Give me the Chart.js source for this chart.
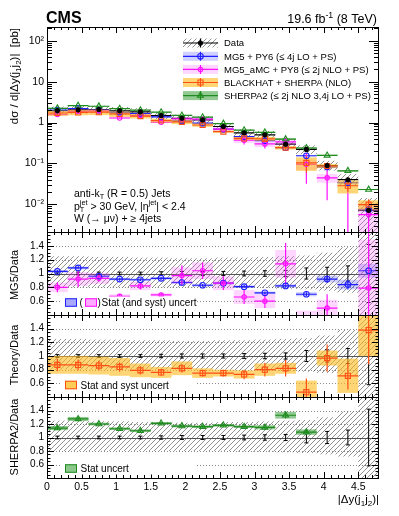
<!DOCTYPE html>
<html>
<head>
<meta charset="utf-8">
<script src="https://cdn.jsdelivr.net/npm/chart.js@4.4.1/dist/chart.umd.min.js"></script>
<style>
html,body{margin:0;padding:0;background:#fff;}
#wrap{position:relative;width:399px;height:516px;background:#fff;overflow:hidden;}
#wrap canvas{position:absolute;left:0;top:0;}
</style>
</head>
<body>
<div id="wrap">
<canvas id="cMain" width="399" height="516"></canvas>
<canvas id="cR1" width="399" height="516"></canvas>
<canvas id="cR2" width="399" height="516"></canvas>
<canvas id="cR3" width="399" height="516"></canvas>
</div>
<script>
// ---------------- DATA ----------------
const binCenters = [0.15,0.45,0.75,1.05,1.35,1.65,1.95,2.25,2.55,2.85,3.15,3.45,3.75,4.05,4.35,4.65];
const binHalfWidth = 0.15;
const xTickValues = [0,0.5,1,1.5,2,2.5,3,3.5,4,4.5];
const xTickLabels = ['0','0.5','1','1.5','2','2.5','3','3.5','4','4.5'];
const mainTickValues = [0.01,0.1,1,10,100];
const mainTickLabels = ['10\u207B\u00B2','10\u207B\u00B9','1','10','10\u00B2'];
const ratioTickValues = [0.6,0.8,1,1.2,1.4];
const ratioTickLabels = ['0.6','0.8','1','1.2','1.4'];
const seriesLabels = ['Data','MG5 + PY6 (\u2264 4j LO + PS)','MG5_aMC + PY8 (\u2264 2j NLO + PS)','BLACKHAT + SHERPA (NLO)','SHERPA2 (\u2264 2j NLO 3,4j LO + PS)'];

// Data cross section [pb] and relative uncertainties
const dataXsec = [1.96,2.04,2.08,1.93,1.82,1.48,1.27,1.16,0.80,0.56,0.50,0.296,0.22,0.089,0.040,0.0071];
const dataStatRel = [0.02,0.02,0.02,0.02,0.02,0.025,0.03,0.03,0.03,0.035,0.04,0.045,0.08,0.09,0.11,0.42];
const dataSystUpRel = [0.25,0.25,0.24,0.24,0.23,0.23,0.22,0.22,0.23,0.23,0.24,0.25,0.26,0.30,0.38,1.00];
const dataSystDownRel = [0.20,0.20,0.20,0.20,0.20,0.20,0.20,0.20,0.20,0.21,0.21,0.22,0.23,0.25,0.28,0.90];

// MG5 + PY6
const mg5Xsec = [2.02,2.20,2.00,1.78,1.66,1.38,1.10,0.963,0.688,0.454,0.36,0.243,0.154,0.0819,0.0336,0.00738];
const mg5Ratio = [1.03,1.08,0.96,0.92,0.91,0.93,0.87,0.83,0.86,0.81,0.72,0.82,0.70,0.92,0.84,1.04];
const mg5StatErr = [0.02,0.02,0.02,0.02,0.02,0.02,0.02,0.02,0.02,0.02,0.02,0.025,0.03,0.05,0.07,0.10];

// MG5_aMC + PY8
const amcXsec = [1.57,1.88,1.93,1.29,1.49,1.02,1.23,1.21,0.688,0.370,0.30,0.337,0.095,0.0445,0.0015,0.0056];
const amcXsecLo = [1.43,1.64,1.83,1.23,1.40,0.97,1.04,1.07,0.605,0.29,0.23,0.25,0.032,0.0125,0.0005,0.0003];
const amcXsecHi = [1.71,2.12,2.03,1.35,1.58,1.07,1.42,1.35,0.77,0.47,0.42,0.43,0.176,0.081,0.034,0.0125];
const amcRatio = [0.80,0.92,0.93,0.67,0.82,0.69,0.97,1.04,0.86,0.66,0.60,1.14,0.36,0.50,null,0.79];
const amcErr = [0.07,0.12,0.05,0.03,0.05,0.03,0.15,0.12,0.10,0.10,0.10,0.30,0.03,0.20,null,0.80];
const amcBand = [0.07,0.10,0.08,0.03,0.06,0.03,0.12,0.12,0.10,0.10,0.10,0.20,0.10,0.12,null,0.70];

// BLACKHAT + SHERPA
const bhXsec = [1.71,1.77,1.79,1.62,1.44,1.12,1.04,0.87,0.60,0.409,0.40,0.243,0.103,0.0863,0.0284,0.0098];
const bhRatio = [0.87,0.87,0.86,0.84,0.79,0.76,0.82,0.75,0.75,0.73,0.80,0.82,0.47,0.97,0.71,1.38];
const bhErr = [0.09,0.08,0.07,0.07,0.06,0.05,0.06,0.05,0.05,0.07,0.10,0.12,0.20,0.20,0.20,0.50];
const bhBand = [0.13,0.13,0.13,0.13,0.10,0.08,0.10,0.07,0.05,0.06,0.09,0.08,0.17,0.11,0.25,0.38];

// SHERPA2
const sherpaXsec = [2.23,2.60,2.50,2.18,2.00,1.79,1.49,1.35,0.944,0.65,0.575,0.394,0.238,0.157,0.066,0.023];
const sherpaRatio = [1.14,1.275,1.20,1.13,1.10,1.21,1.17,1.16,1.18,1.16,1.15,1.33,1.08,1.76,1.65,3.24];
const sherpaErr = [0.03,0.03,0.02,0.02,0.02,0.02,0.02,0.02,0.02,0.02,0.03,0.05,0.04,0.06,0.06,0.10];

const unity = [1,1,1,1,1,1,1,1,1,1,1,1,1,1,1,1];

// ---------------- STYLE ----------------
const FONT = "'Liberation Sans', Arial, Helvetica, sans-serif";
Chart.defaults.font.family = FONT;
Chart.defaults.color = '#000';

const COL = {
  mg5: '#1f1fff', mg5Band: 'rgba(70,70,255,0.25)', mg5Box: '#a8a8ff',
  amc: '#ff10ff', amcBand: 'rgba(255,70,255,0.22)', amcBox: '#ffaaff',
  bh: '#ff5014', bhBand: 'rgba(255,185,25,0.6)', bhBox: '#ffcc55',
  sh: '#1e8c1e', shBand: 'rgba(40,150,40,0.5)', shBox: '#8cc88c'
};

function hatchFor(canvasId) {
  const s = 5;
  const t = document.createElement('canvas'); t.width = s; t.height = s;
  const g = t.getContext('2d');
  g.strokeStyle = 'rgba(60,60,60,0.8)'; g.lineWidth = 0.7;
  g.beginPath();
  g.moveTo(0, s); g.lineTo(s, 0);
  g.moveTo(-1, 1); g.lineTo(1, -1);
  g.moveTo(s - 1, s + 1); g.lineTo(s + 1, s - 1);
  g.stroke();
  return document.getElementById(canvasId).getContext('2d').createPattern(t, 'repeat');
}

const rel = (a, b) => a.map((v, i) => (v == null || b[i] == null) ? null : v / b[i]);
const mul = (vals, f, sign) => vals.map((v, i) => (v == null || f[i] == null) ? null : v * (1 + sign * f[i]));
const shift = (vals, e, sign) => vals.map((v, i) => (v == null || e[i] == null) ? null : v + sign * e[i]);

function band(lo, hi, color, order, lines) {
  const data = [];
  binCenters.forEach((x, i) => { if (lo[i] != null && hi[i] != null) data.push({x, y: [lo[i], hi[i]]}); });
  return { type: 'bar', data, backgroundColor: color, borderWidth: 0, barPercentage: 1, categoryPercentage: 1,
           grouped: false, inflateAmount: 0, order, binLines: lines };
}
function markers(vals, style, color, r, fill, order) {
  const data = [];
  binCenters.forEach((x, i) => { if (vals[i] != null) data.push({x, y: vals[i]}); });
  return { type: 'line', showLine: false, data, pointStyle: style, pointRadius: r, pointHoverRadius: r,
           pointBorderColor: color, pointBackgroundColor: fill, pointBorderWidth: 1.1, order };
}

// ---------------- PLUGINS ----------------
const binLinesPlugin = {
  id: 'binLines',
  afterDatasetDraw(chart, args) {
    const ds = chart.data.datasets[args.index];
    const L = ds.binLines; if (!L) return;
    const x = chart.scales.x, y = chart.scales.y, a = chart.chartArea, ctx = chart.ctx;
    const py = v => y.getPixelForValue(Math.max(v, 1e-7));
    ctx.save();
    ctx.beginPath(); ctx.rect(a.left, a.top, a.right - a.left, a.bottom - a.top); ctx.clip();
    if (L.unity) {
      ctx.strokeStyle = '#555'; ctx.lineWidth = 1;
      const yy = Math.round(py(1)) + 0.5;
      ctx.beginPath(); ctx.moveTo(a.left, yy); ctx.lineTo(a.right, yy); ctx.stroke();
    }
    ctx.strokeStyle = L.color; ctx.lineWidth = L.width || 1.2;
    binCenters.forEach((c, i) => {
      const cx = x.getPixelForValue(c);
      ctx.beginPath();
      if (L.values && L.values[i] != null) {
        const yy = py(L.values[i]);
        ctx.moveTo(x.getPixelForValue(c - binHalfWidth), yy);
        ctx.lineTo(x.getPixelForValue(c + binHalfWidth), yy);
      }
      if (L.lo && L.lo[i] != null && L.hi[i] != null) {
        const y0 = py(L.lo[i]), y1 = py(L.hi[i]);
        ctx.moveTo(cx, y0); ctx.lineTo(cx, y1);
        if (L.caps) { ctx.moveTo(cx - 2, y0); ctx.lineTo(cx + 2, y0); ctx.moveTo(cx - 2, y1); ctx.lineTo(cx + 2, y1); }
      }
      ctx.stroke();
    });
    ctx.restore();
  }
};

function drawRich(ctx, parts, x, y, size, align, weight) {
  weight = weight || '';
  const f = s => `${weight} ${s}px ${FONT}`;
  const items = parts.map(p => typeof p === 'string' ? {t: p, m: 'n'} : p);
  let w = 0;
  for (const it of items) {
    if (it.m === 'n') { ctx.font = f(size); it.w = ctx.measureText(it.t).width; }
    else if (it.m === 'ss') { ctx.font = f(size * 0.7); it.w = Math.max(ctx.measureText(it.sup).width, ctx.measureText(it.sub).width); }
    else { ctx.font = f(size * 0.7); it.w = ctx.measureText(it.t).width; }
    w += it.w;
  }
  let cx = align === 'right' ? x - w : align === 'center' ? x - w / 2 : x;
  ctx.textAlign = 'left'; ctx.textBaseline = 'alphabetic';
  for (const it of items) {
    if (it.m === 'n') { ctx.font = f(size); ctx.fillText(it.t, cx, y); }
    else if (it.m === 'sup') { ctx.font = f(size * 0.7); ctx.fillText(it.t, cx, y - size * 0.4); }
    else if (it.m === 'sub') { ctx.font = f(size * 0.7); ctx.fillText(it.t, cx, y + size * 0.22); }
    else { ctx.font = f(size * 0.7); ctx.fillText(it.sup, cx, y - size * 0.4); ctx.fillText(it.sub, cx, y + size * 0.25); }
    cx += it.w;
  }
  return w;
}
function drawRotated(ctx, parts, x, y, size, align) {
  ctx.save(); ctx.translate(x, y); ctx.rotate(-Math.PI / 2);
  drawRich(ctx, parts, 0, 0, size, align);
  ctx.restore();
}
function drawMarker(ctx, style, x, y, r, stroke, fill, lw) {
  ctx.save(); ctx.beginPath(); ctx.lineWidth = lw; ctx.strokeStyle = stroke; ctx.fillStyle = fill;
  if (style === 'circle') ctx.arc(x, y, r, 0, Math.PI * 2);
  else if (style === 'rect') { const s = r * Math.SQRT1_2; ctx.rect(x - s, y - s, 2 * s, 2 * s); }
  else { ctx.moveTo(x, y - r); ctx.lineTo(x + 0.866 * r, y + 0.5 * r); ctx.lineTo(x - 0.866 * r, y + 0.5 * r); }
  ctx.closePath(); ctx.fill(); ctx.stroke(); ctx.restore();
}

function drawFrame(chart, kind) {
  const ctx = chart.ctx, a = chart.chartArea, x = chart.scales.x, y = chart.scales.y;
  const main = kind === 'main';
  ctx.save();
  ctx.strokeStyle = '#000'; ctx.lineWidth = 1;
  ctx.strokeRect(a.left + 0.5, a.top + 0.5, a.right - a.left - 1, a.bottom - a.top);
  ctx.beginPath();
  const xMaj = 6, xMin = 3;
  for (let i = 0; i <= 48; i++) {
    const px = Math.round(x.getPixelForValue(i / 10)) + 0.5;
    if (px > a.right) continue;
    const L = (i % 5 === 0) ? xMaj : xMin;
    ctx.moveTo(px, a.top); ctx.lineTo(px, a.top + L);
    ctx.moveTo(px, a.bottom); ctx.lineTo(px, a.bottom - L);
  }
  if (main) {
    for (let d = -3; d <= 2; d++) {
      for (let k = 1; k <= 9; k++) {
        const v = k * Math.pow(10, d);
        if (v < y.min || v > y.max) continue;
        const py = Math.round(y.getPixelForValue(v)) + 0.5;
        const L = k === 1 ? 10 : 5;
        ctx.moveTo(a.left, py); ctx.lineTo(a.left + L, py);
        ctx.moveTo(a.right, py); ctx.lineTo(a.right - L, py);
      }
    }
  } else {
    for (let i = 8; i <= 32; i++) {
      const py = Math.round(y.getPixelForValue(i * 0.05)) + 0.5;
      const L = (i % 4 === 0) ? 7 : 3.5;
      ctx.moveTo(a.left, py); ctx.lineTo(a.left + L, py);
      ctx.moveTo(a.right, py); ctx.lineTo(a.right - L, py);
    }
  }
  ctx.stroke();
  ctx.restore();
}

function drawRatioGrid(chart) {
  const ctx = chart.ctx, a = chart.chartArea, y = chart.scales.y;
  ctx.save(); ctx.strokeStyle = '#8a8a8a'; ctx.lineWidth = 1; ctx.setLineDash([1, 2]);
  ratioTickValues.forEach(v => {
    if (v === 1) return;
    const py = Math.round(y.getPixelForValue(v)) + 0.5;
    ctx.beginPath(); ctx.moveTo(a.left, py); ctx.lineTo(a.right, py); ctx.stroke();
  });
  ctx.restore();
}

function mainLegend(ctx, hatch) {
  const rows = [43, 56.3, 69.4, 82.5, 95.6];
  const x0 = 183, x1 = 218, xc = 200.5, h = 9;
  const spec = [
    {fill: hatch, line: '#000', style: 'circle', r: 2, mfill: '#000'},
    {fill: COL.mg5Band, line: COL.mg5, style: 'circle', r: 2.8, mfill: 'rgba(0,0,0,0)'},
    {fill: COL.amcBand, line: COL.amc, style: 'circle', r: 2.2, mfill: 'rgba(0,0,0,0)'},
    {fill: COL.bhBand, line: COL.bh, style: 'rect', r: 3.6, mfill: 'rgba(0,0,0,0)'},
    {fill: COL.shBand, line: COL.sh, style: 'triangle', r: 3.4, mfill: 'rgba(0,0,0,0)'}
  ];
  spec.forEach((s, i) => {
    const cy = rows[i];
    ctx.save();
    ctx.fillStyle = s.fill; ctx.fillRect(x0, cy - h / 2, x1 - x0, h);
    ctx.strokeStyle = s.line; ctx.lineWidth = 1.2;
    ctx.beginPath(); ctx.moveTo(x0, cy); ctx.lineTo(x1, cy);
    ctx.moveTo(xc, cy - h / 2); ctx.lineTo(xc, cy + h / 2); ctx.stroke();
    ctx.restore();
    drawMarker(ctx, s.style, xc, cy, s.r, s.line, s.mfill, 1.1);
    ctx.fillStyle = '#000';
    drawRich(ctx, [seriesLabels[i]], 224, cy + 3.4, 9.5, 'left');
  });
}

function ratioLegend(ctx, boxes, parts, cy) {
  ctx.save();
  ctx.fillStyle = '#fff';
  ctx.fillRect(62, cy - 6, 134, 12);
  boxes.forEach(b => {
    ctx.fillStyle = b.fill; ctx.fillRect(b.x, cy - 4.25, 12, 8.5);
    ctx.strokeStyle = b.stroke; ctx.lineWidth = 1; ctx.strokeRect(b.x + 0.5, cy - 4.25 + 0.5, 11, 7.5);
  });
  ctx.fillStyle = '#000';
  parts.forEach(p => drawRich(ctx, [p.t], p.x, cy + 3.6, 10, 'left'));
  ctx.restore();
}

const decoPlugin = {
  id: 'deco',
  beforeDatasetsDraw(chart, args, opts) {
    if (opts.kind !== 'main') drawRatioGrid(chart);
  },
  afterDraw(chart, args, opts) {
    const ctx = chart.ctx;
    drawFrame(chart, opts.kind);
    ctx.save(); ctx.fillStyle = '#000';
    if (opts.kind === 'main') {
      drawRich(ctx, ['CMS'], 46, 23, 16, 'left', 'bold');
      drawRich(ctx, ['19.6 fb', {t: '-1', m: 'sup'}, ' (8 TeV)'], 377, 22.5, 12.5, 'right');
      drawRotated(ctx, ['d\u03C3 / d|\u0394y(j', {t: '1', m: 'sub'}, 'j', {t: '2', m: 'sub'}, ')|  [pb]'], 18, 28, 11.5, 'right');
      drawRich(ctx, ['anti-k', {t: 'T', m: 'sub'}, ' (R = 0.5) Jets'], 74, 197, 10.5, 'left');
      drawRich(ctx, ['p', {m: 'ss', sup: 'jet', sub: 'T'}, ' > 30 GeV, |\u03B7', {t: 'jet', m: 'sup'}, '| < 2.4'], 74, 209.5, 10.5, 'left');
      drawRich(ctx, ['W (\u2192 \u03BC\u03BD) + \u2265 4jets'], 74, 221.5, 10.5, 'left');
      mainLegend(ctx, opts.hatch);
    } else if (opts.kind === 'r1') {
      drawRotated(ctx, ['MG5/Data'], 18, 275, 11, 'center');
      ratioLegend(ctx, [{x: 65, fill: COL.mg5Box, stroke: COL.mg5}, {x: 85, fill: COL.amcBox, stroke: COL.amc}],
        [{t: '(', x: 79.5}, {t: ')', x: 97.5}, {t: 'Stat (and syst) uncert', x: 101.5}], 302.5);
    } else if (opts.kind === 'r2') {
      drawRotated(ctx, ['Theory/Data'], 18, 355, 11, 'center');
      ratioLegend(ctx, [{x: 65, fill: COL.bhBox, stroke: COL.bh}], [{t: 'Stat and syst uncert', x: 80.5}], 385);
    } else {
      drawRotated(ctx, ['SHERPA2/Data'], 18, 437, 11, 'center');
      ratioLegend(ctx, [{x: 65, fill: COL.shBox, stroke: COL.sh}], [{t: 'Stat uncert', x: 80.5}], 468.5);
      drawRich(ctx, ['|\u0394y(j', {t: '1', m: 'sub'}, 'j', {t: '2', m: 'sub'}, ')|'], 379, 503, 11.5, 'right');
    }
    ctx.restore();
  }
};

// ---------------- CHARTS ----------------
function panel(id, top, bottomPad, showX, yScale, datasets, deco) {
  return new Chart(document.getElementById(id), {
    type: 'bar',
    data: { datasets },
    options: {
      responsive: false, animation: false, devicePixelRatio: 1, events: [],
      layout: { padding: { top, bottom: bottomPad, left: 0, right: 20 } },
      plugins: { legend: { display: false }, tooltip: { enabled: false }, deco },
      scales: {
        x: {
          type: 'linear', min: 0, max: 4.8, display: showX, offset: false,
          afterBuildTicks: s => { s.ticks = xTickValues.map(v => ({value: v})); },
          afterFit: s => { if (showX) s.height = 38; },
          grid: { display: false, drawTicks: false }, border: { display: false },
          ticks: { autoSkip: false, maxRotation: 0, padding: 3, font: { size: 10.5 }, callback: (v, i) => xTickLabels[i] }
        },
        y: yScale
      }
    },
    plugins: [binLinesPlugin, decoPlugin]
  });
}

const mainY = {
  type: 'logarithmic', min: 0.0021, max: 217, position: 'left',
  afterBuildTicks: s => { s.ticks = mainTickValues.map(v => ({value: v})); },
  afterFit: s => { s.width = 47; },
  grid: { display: false, drawTicks: false }, border: { display: false },
  ticks: { padding: 3, font: { size: 10.5 }, callback: (v, i) => mainTickLabels[i] }
};
const ratioY = () => ({
  type: 'linear', min: 0.4, max: 1.6, position: 'left',
  afterBuildTicks: s => { s.ticks = ratioTickValues.map(v => ({value: v})); },
  afterFit: s => { s.width = 47; },
  grid: { display: false, drawTicks: false }, border: { display: false },
  ticks: { padding: 3, font: { size: 10 }, callback: (v, i) => ratioTickLabels[i] }
});

const T = 'rgba(0,0,0,0)';
// Main panel
const hMain = hatchFor('cMain');
const mg5Rel = rel(mg5StatErr, mg5Ratio);
const amcBandRel = rel(amcBand, amcRatio);
const bhErrRel = rel(bhErr, bhRatio), bhBandRel = rel(bhBand, bhRatio);
const shRel = rel(sherpaErr, sherpaRatio);
panel('cMain', 27, 284, false, mainY, [
  band(mul(dataXsec, dataSystDownRel, -1), mul(dataXsec, dataSystUpRel, 1), hMain, 60,
       {color: '#000', values: dataXsec, lo: mul(dataXsec, dataStatRel, -1), hi: mul(dataXsec, dataStatRel, 1)}),
  band(mul(mg5Xsec, mg5Rel, -1), mul(mg5Xsec, mg5Rel, 1), COL.mg5Band, 55,
       {color: COL.mg5, values: mg5Xsec, lo: mul(mg5Xsec, mg5Rel, -1), hi: mul(mg5Xsec, mg5Rel, 1)}),
  band(mul(amcXsec, amcBandRel, -1), mul(amcXsec, amcBandRel, 1), COL.amcBand, 54,
       {color: COL.amc, values: amcXsec, lo: amcXsecLo, hi: amcXsecHi}),
  band(mul(bhXsec, bhBandRel, -1), mul(bhXsec, bhBandRel, 1), COL.bhBand, 53,
       {color: COL.bh, values: bhXsec, lo: mul(bhXsec, bhErrRel, -1), hi: mul(bhXsec, bhErrRel, 1)}),
  band(mul(sherpaXsec, shRel, -1), mul(sherpaXsec, shRel, 1), COL.shBand, 52,
       {color: COL.sh, values: sherpaXsec, lo: mul(sherpaXsec, shRel, -1), hi: mul(sherpaXsec, shRel, 1)}),
  markers(mg5Xsec, 'circle', COL.mg5, 2.8, T, 5),
  markers(amcXsec, 'circle', COL.amc, 2.2, T, 4),
  markers(bhXsec, 'rect', COL.bh, 3.6, T, 3),
  markers(sherpaXsec, 'triangle', COL.sh, 3.4, T, 2),
  markers(dataXsec, 'circle', '#000', 2, '#000', 1)
], { kind: 'main', hatch: hMain });

// Ratio 1: MG5 / Data
const h1 = hatchFor('cR1');
panel('cR1', 232, 201, false, ratioY(), [
  band(mul(unity, dataSystDownRel, -1), mul(unity, dataSystUpRel, 1), h1, 60,
       {color: '#000', width: 1, unity: true, lo: mul(unity, dataStatRel, -1), hi: mul(unity, dataStatRel, 1), caps: true}),
  band(shift(mg5Ratio, mg5StatErr, -1), shift(mg5Ratio, mg5StatErr, 1), COL.mg5Band, 55,
       {color: COL.mg5, values: mg5Ratio, lo: shift(mg5Ratio, mg5StatErr, -1), hi: shift(mg5Ratio, mg5StatErr, 1)}),
  band(shift(amcRatio, amcBand, -1), shift(amcRatio, amcBand, 1), COL.amcBand, 54,
       {color: COL.amc, values: amcRatio, lo: shift(amcRatio, amcErr, -1), hi: shift(amcRatio, amcErr, 1)}),
  markers(mg5Ratio, 'circle', COL.mg5, 2.8, T, 2),
  markers(amcRatio, 'circle', COL.amc, 2.2, T, 1)
], { kind: 'r1' });

// Ratio 2: BLACKHAT / Data
const h2 = hatchFor('cR2');
panel('cR2', 315, 119, false, ratioY(), [
  band(mul(unity, dataSystDownRel, -1), mul(unity, dataSystUpRel, 1), h2, 60,
       {color: '#000', width: 1, unity: true, lo: mul(unity, dataStatRel, -1), hi: mul(unity, dataStatRel, 1), caps: true}),
  band(shift(bhRatio, bhBand, -1), shift(bhRatio, bhBand, 1), COL.bhBand, 55,
       {color: COL.bh, values: bhRatio, lo: shift(bhRatio, bhErr, -1), hi: shift(bhRatio, bhErr, 1)}),
  markers(bhRatio, 'rect', COL.bh, 3.6, T, 1)
], { kind: 'r2' });

// Ratio 3: SHERPA2 / Data
const h3 = hatchFor('cR3');
panel('cR3', 397, 0, true, ratioY(), [
  band(mul(unity, dataSystDownRel, -1), mul(unity, dataSystUpRel, 1), h3, 60,
       {color: '#000', width: 1, unity: true, lo: mul(unity, dataStatRel, -1), hi: mul(unity, dataStatRel, 1), caps: true}),
  band(shift(sherpaRatio, sherpaErr, -1), shift(sherpaRatio, sherpaErr, 1), COL.shBand, 55,
       {color: COL.sh, values: sherpaRatio, lo: shift(sherpaRatio, sherpaErr, -1), hi: shift(sherpaRatio, sherpaErr, 1)}),
  markers(sherpaRatio, 'triangle', COL.sh, 3.4, T, 1)
], { kind: 'r3' });
</script>
</body>
</html>
